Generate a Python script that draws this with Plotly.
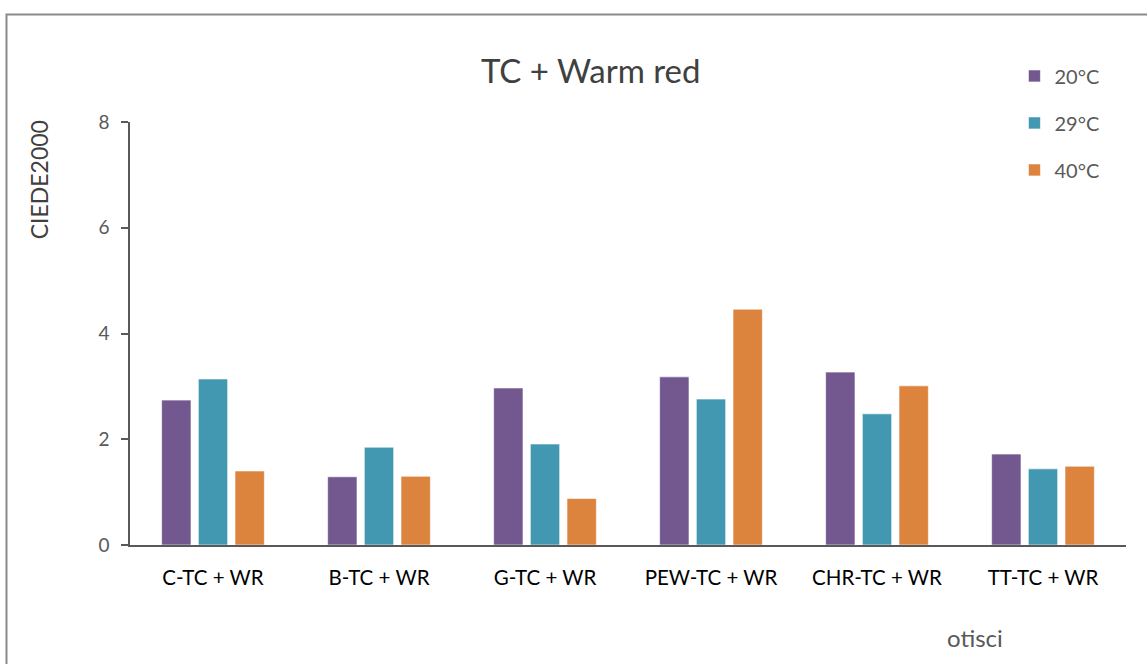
import plotly.graph_objects as go

categories = ["C-TC + WR", "B-TC + WR", "G-TC + WR", "PEW-TC + WR", "CHR-TC + WR", "TT-TC + WR"]
series_names = ["20°C", "29°C", "40°C"]
v20 = [2.74, 1.29, 2.97, 3.18, 3.27, 1.72]
v29 = [3.14, 1.85, 1.91, 2.76, 2.48, 1.44]
v40 = [1.40, 1.30, 0.88, 4.46, 3.01, 1.49]
colors = ["#72588F", "#4298B0", "#DC833E"]
y_ticks = [0, 2, 4, 6, 8]

FONT = "Lato"
fig = go.Figure()
for name, vals, col in zip(series_names, [v20, v29, v40], colors):
    fig.add_trace(go.Bar(x=categories, y=vals, name=name, legendgroup=name,
                         marker=dict(color=col, line=dict(color="rgba(255,255,255,0.6)", width=1))))

fig.update_layout(
    width=1147, height=664,
    margin=dict(l=130, r=21, t=122, b=119),
    paper_bgcolor="white", plot_bgcolor="white",
    barmode="group", bargap=0.337, bargroupgap=0.2,
    font=dict(family=FONT, color="#595959"),
    title=dict(text="TC + Warm red", x=0.515, xanchor="center", y=0.893, yanchor="middle",
               font=dict(size=33, color="#404040", family=FONT)),
    legend=dict(x=0.888, y=1.155, xanchor="left", yanchor="top", tracegroupgap=18,
                font=dict(size=20, color="#595959", family=FONT), bgcolor="rgba(0,0,0,0)"),
    xaxis=dict(showline=True, linecolor="#595959", linewidth=1.5, ticks="", ticklabelstandoff=14,
               tickfont=dict(size=20.5, color="#000000", family=FONT), showgrid=False),
    yaxis=dict(range=[0, 8], tickvals=y_ticks, showline=True, linecolor="#595959", linewidth=1.5,
               ticks="outside", ticklen=7, tickcolor="#595959", tickwidth=1.5, ticklabelstandoff=8,
               tickfont=dict(size=19, color="#595959", family=FONT), showgrid=False, zeroline=False),
)

fig.add_annotation(text="CIEDE2000", xref="paper", yref="paper", x=-0.091, y=0.863,
                   textangle=-90, showarrow=False, xanchor="center", yanchor="middle",
                   font=dict(size=23, color="#404040", family=FONT))
fig.add_annotation(text="otisci", xref="paper", yref="paper", x=0.848, y=-0.219,
                   showarrow=False, xanchor="center", yanchor="middle",
                   font=dict(size=24, color="#595959", family=FONT))
fig.add_shape(type="rect", xref="paper", yref="paper", x0=-0.124, y0=-0.5, x1=1.2, y1=1.254,
              line=dict(color="#8a8a8a", width=2), fillcolor="rgba(0,0,0,0)", layer="below")

fig.write_html("out.html", config={"displayModeBar": False},
               post_script="document.body.style.margin='0';")
